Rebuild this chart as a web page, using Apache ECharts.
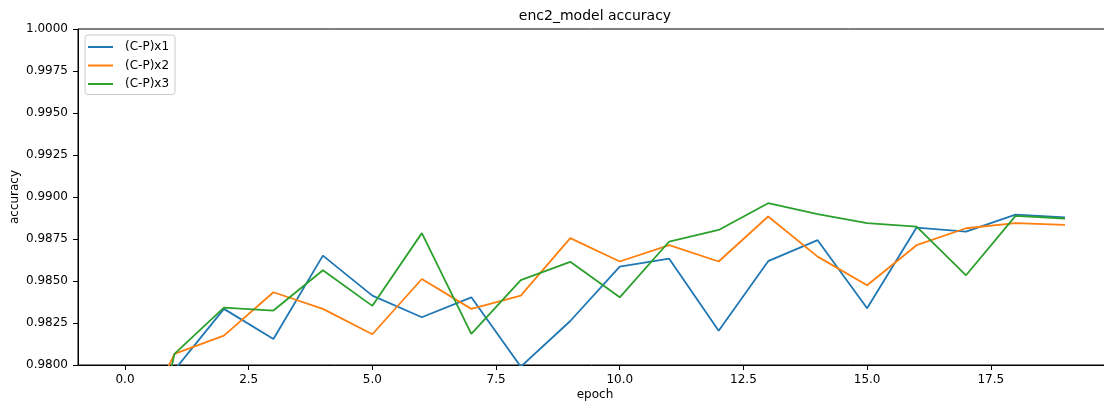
<!DOCTYPE html>
<html>
<head>
<meta charset="utf-8">
<script src="https://cdn.jsdelivr.net/npm/echarts@6/dist/echarts.min.js"></script>
<style>html,body{margin:0;padding:0;background:#fff}#c{width:1104px;height:405px}</style>
</head>
<body>
<div id="c"></div>
<script>
const epochs = [0,1,2,3,4,5,6,7,8,9,10,11,12,13,14,15,16,17,18,19];
const cp1 = [0.9720,0.9797,0.98334,0.98155,0.98651,0.98413,0.98284,0.98403,0.97990,0.98262,0.98586,0.98633,0.98204,0.98618,0.98743,0.98338,0.98818,0.98794,0.98895,0.98878];
const cp2 = [0.9744,0.98066,0.98175,0.98433,0.98334,0.98183,0.98512,0.98334,0.98413,0.98755,0.98616,0.98713,0.98616,0.98884,0.98645,0.98475,0.98713,0.98814,0.98844,0.98834];
const cp3 = [0.9674,0.98066,0.98342,0.98324,0.98564,0.98352,0.98785,0.98185,0.98505,0.98614,0.98403,0.98735,0.98804,0.98963,0.98898,0.98844,0.98824,0.98534,0.98888,0.98872];
const seriesNames = ['(C-P)x1','(C-P)x2','(C-P)x3'];
const colors = ['#1f77b4','#ff7f0e','#2ca02c'];
const xTicks = [0,2.5,5,7.5,10,12.5,15,17.5];
const yTicks = [0.98,0.9825,0.985,0.9875,0.99,0.9925,0.995,0.9975,1.0];

const font = 'DejaVu Sans';
const chart = echarts.init(document.getElementById('c'), null, {renderer:'canvas'});
const data = [cp1,cp2,cp3];
chart.setOption({
  animation:false,
  backgroundColor:'#fff',
  color:colors,
  graphic:[{type:'text',x:595,y:16,style:{text:'enc2_model accuracy',fontFamily:font,fontSize:14,fill:'#000',textAlign:'center',textVerticalAlign:'middle'}}],
  legend:{
    orient:'vertical',left:85,top:35,
    padding:[5.5,6,4,3],itemGap:5.5,itemWidth:25,itemHeight:2,icon:'rect',
    borderColor:'#cccccc',borderWidth:1,borderRadius:3,backgroundColor:'rgba(255,255,255,0.8)',
    textStyle:{fontFamily:font,fontSize:12,color:'#000',lineHeight:13,padding:[0,0,0,7]},
    data:seriesNames
  },
  grid:{left:78,top:29,right:-8,bottom:40,containLabel:false,outerBoundsMode:'none',show:true,borderColor:'#000',borderWidth:1,backgroundColor:'transparent'},
  xAxis:{type:'value',min:-0.95,max:19.95,
    name:'epoch',nameLocation:'middle',nameGap:24,nameMoveOverlap:false,nameTextStyle:{fontFamily:font,fontSize:12,color:'#000'},
    axisLine:{show:true,onZero:false,lineStyle:{color:'#000',width:1}},
    axisTick:{show:true,length:5,lineStyle:{color:'#000'},customValues:xTicks},
    axisLabel:{fontFamily:font,fontSize:12,color:'#000',margin:9,customValues:xTicks,formatter:v=>v.toFixed(1)},
    splitLine:{show:false}},
  yAxis:{type:'value',min:0.98,max:1.0,
    name:'accuracy',nameLocation:'middle',nameGap:57,nameMoveOverlap:false,nameTextStyle:{fontFamily:font,fontSize:12,color:'#000'},
    axisLine:{show:true,onZero:false,lineStyle:{color:'#000',width:1}},
    axisTick:{show:true,length:5,lineStyle:{color:'#000'},customValues:yTicks},
    axisLabel:{fontFamily:font,fontSize:12,color:'#000',margin:10,customValues:yTicks,formatter:v=>v.toFixed(4)},
    splitLine:{show:false}},
  series:data.map((d,i)=>({
    name:seriesNames[i],type:'line',showSymbol:false,symbol:'none',clip:true,
    lineStyle:{width:1.8,color:colors[i]},itemStyle:{color:colors[i]},
    data:epochs.map((e,j)=>[e,d[j]])
  }))
});
</script>
</body>
</html>
